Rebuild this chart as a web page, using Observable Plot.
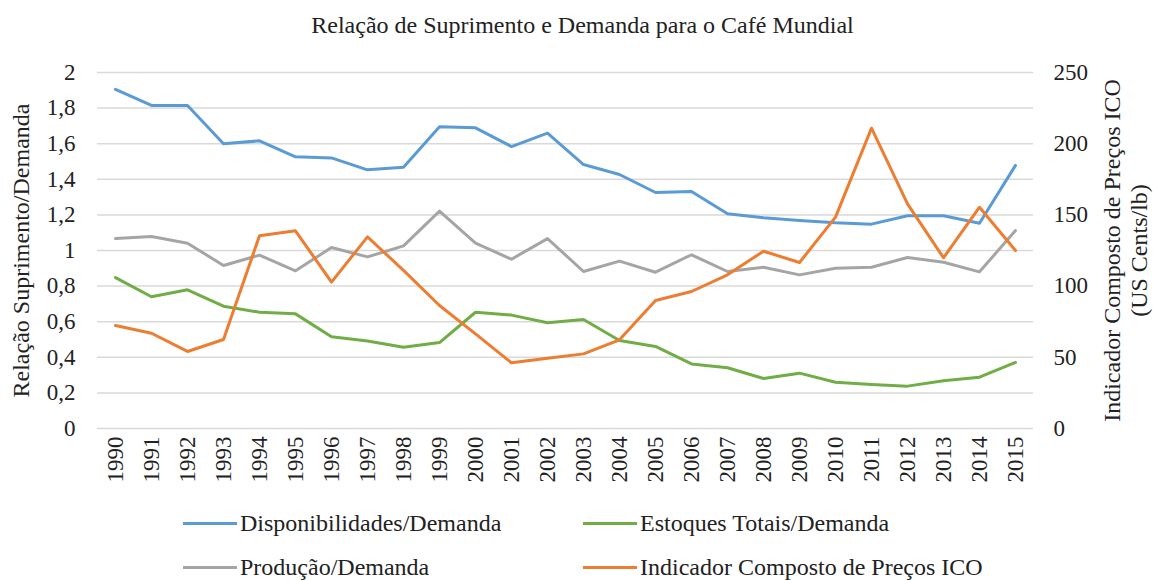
<!DOCTYPE html>
<html>
<head>
<meta charset="utf-8">
<script src="https://cdn.jsdelivr.net/npm/d3@7"></script>
<script src="https://cdn.jsdelivr.net/npm/@observablehq/plot@0.6"></script>
<style>
  body { margin: 0; background: #fff; font-family: "Liberation Serif", "Times New Roman", serif; }
  #wrap { width: 1153px; height: 580px; position: relative; overflow: hidden; }
  #title { position: absolute; left: 0; top: 10px; width: 1165px; text-align: center; font-size: 24px; line-height: 30px; color: #222; }
  #chart { position: absolute; left: 0; top: 50px; }
  #chart svg { overflow: visible; }
  #chart svg text { font-family: "Liberation Serif", "Times New Roman", serif; }
  #legend { position: absolute; left: 183px; top: 508px; display: grid; grid-template-columns: 400px 420px; row-gap: 14px; font-size: 24px; color: #222; }
  .item { display: flex; align-items: center; height: 30px; }
  .sw { width: 54px; height: 3px; margin-right: 3px; }
</style>
</head>
<body>
<div id="wrap">
  <div id="title">Relação de Suprimento e Demanda para o Café Mundial</div>
  <div id="chart"></div>
  <div id="legend"></div>
</div>
<script>
const years = ["1990","1991","1992","1993","1994","1995","1996","1997","1998","1999","2000","2001","2002","2003","2004","2005","2006","2007","2008","2009","2010","2011","2012","2013","2014","2015"];
const disponibilidades = [1.905,1.815,1.815,1.60,1.616,1.526,1.52,1.453,1.468,1.695,1.689,1.584,1.659,1.483,1.427,1.326,1.331,1.206,1.184,1.169,1.156,1.148,1.195,1.195,1.153,1.478];
const estoques = [0.848,0.74,0.779,0.687,0.653,0.644,0.515,0.491,0.457,0.483,0.653,0.637,0.594,0.612,0.494,0.461,0.363,0.341,0.281,0.311,0.260,0.247,0.238,0.268,0.288,0.371];
const producao = [1.067,1.079,1.041,0.916,0.974,0.886,1.017,0.964,1.026,1.221,1.041,0.951,1.067,0.882,0.940,0.878,0.976,0.882,0.906,0.863,0.90,0.906,0.961,0.934,0.880,1.112];
const precoICO = [72.3,66.9,54.1,62.5,135.3,138.8,102.8,134.6,111,86.4,66.5,46.1,49.4,52.4,62.3,89.9,96.2,107.9,124.5,116.6,148.4,210.9,157.8,119.9,155.4,125];
const leftTicks = [0,0.2,0.4,0.6,0.8,1,1.2,1.4,1.6,1.8,2];
const rightTicks = [0,50,100,150,200,250];
const seriesNames = ["Disponibilidades/Demanda","Estoques Totais/Demanda","Produção/Demanda","Indicador Composto de Preços ICO"];
const seriesColors = ["#5b9bd5","#70ad47","#a5a5a5","#ed7d31"];
const leftTitle = "Relação Suprimento/Demanda";
const rightTitle = "Indicador Composto de Preços ICO\n(US Cents/lb)";

const ratio = 2 / 250; // right axis mapped onto left scale
const rows = [];
const seriesVals = [disponibilidades, estoques, producao, precoICO.map(v => v * ratio)];
seriesNames.forEach((name, s) => {
  years.forEach((yr, i) => rows.push({series: name, year: yr, value: seriesVals[s][i]}));
});
const drawOrder = [0, 2, 1, 3];

const fmtComma = d => String(+d.toFixed(1)).replace(".", ",");
const serif = '"Liberation Serif", "Times New Roman", serif';

const chart = Plot.plot({
  width: 1153,
  height: 450,
  marginTop: 22,
  marginBottom: 72,
  marginLeft: 97,
  marginRight: 120,
  style: {fontFamily: serif, color: "#222", background: "white", overflow: "visible"},
  x: {type: "point", domain: years, padding: 0.5, label: null},
  y: {domain: [0, 2], label: null},
  marks: [
    Plot.gridY(leftTicks, {stroke: "#d9d9d9", strokeOpacity: 1, strokeWidth: 1.5}),
    Plot.axisY(leftTicks, {anchor: "left", tickSize: 0, tickPadding: 22, fontSize: 23, tickFormat: fmtComma, label: null}),
    Plot.axisY(rightTicks.map(v => v * ratio), {anchor: "right", tickSize: 0, tickPadding: 20, fontSize: 23, tickFormat: d => String(Math.round(d / ratio)), label: null}),
    Plot.axisX({tickSize: 0, tickPadding: 8, tickRotate: -90, fontSize: 23, label: null}),
    ...drawOrder.map(s => Plot.line(rows.filter(r => r.series === seriesNames[s]), {x: "year", y: "value", stroke: seriesColors[s], strokeWidth: 3, strokeLinejoin: "round"})),
    Plot.text([leftTitle], {frameAnchor: "left", textAnchor: "middle", dx: -76, rotate: -90, fontSize: 24, fill: "#222"}),
    Plot.text([rightTitle], {frameAnchor: "right", textAnchor: "middle", dx: 91, rotate: -90, fontSize: 24, lineHeight: 1.15, fill: "#222"})
  ]
});
document.getElementById("chart").appendChild(chart);

const legend = document.getElementById("legend");
[0, 1, 2, 3].forEach(s => {
  const it = document.createElement("div");
  it.className = "item";
  const sw = document.createElement("span");
  sw.className = "sw";
  sw.style.background = seriesColors[s];
  const tx = document.createElement("span");
  tx.textContent = seriesNames[s];
  it.appendChild(sw); it.appendChild(tx);
  legend.appendChild(it);
});
</script>
</body>
</html>
